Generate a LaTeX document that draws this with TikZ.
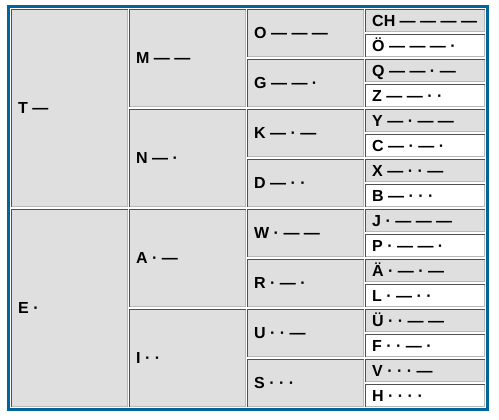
\documentclass[tikz,border=0pt]{standalone}
\usepackage{fontspec}
\setmainfont{Liberation Sans}

\definecolor{framblue}{RGB}{0,102,153}
\definecolor{cellgray}{RGB}{223,223,223}
\definecolor{edgedark}{RGB}{80,80,80}
\definecolor{edgelight}{RGB}{184,184,184}

% one table cell: name, x, y, width, height, fill, label
\newcommand{\morsecell}[7]{%
  \fill[#6] (#2,#3) rectangle ++(#4,#5);
  \draw[lightedge] (#2+#4-0.5,#3) -- (#2+#4-0.5,#3+#5-0.5) -- (#2,#3+#5-0.5);
  \draw[darkedge] (#2+0.5,#3+#5) -- (#2+0.5,#3+0.5) -- (#2+#4,#3+0.5);
  \node[celltext] (#1) at (#2+7,#3+#5/2+5.7) {#7};
}

\begin{document}
\begin{tikzpicture}[x=1pt, y=-1pt,
    darkedge/.style={edgedark, line width=1pt},
    lightedge/.style={edgelight, line width=1pt},
    celltext/.style={anchor=base west, inner sep=0pt, font=\fontsize{16}{18}\selectfont\bfseries}]
    \useasboundingbox[fill=white] (0,0) rectangle (499,420);

    % Draw the blue frame round the table
    \draw[framblue, line width=3pt] (8.5,6.5) rectangle (487.5,409.5);

    % First column: one dot or dash
    \morsecell{t}{11}{9}{117}{198}{cellgray}{T —}
    \morsecell{e}{11}{209}{117}{198}{cellgray}{E ·}

    % Second column: two signs
    \morsecell{m}{129}{9}{117}{98}{cellgray}{M — —}
    \morsecell{n}{129}{109}{117}{98}{cellgray}{N — ·}
    \morsecell{a}{129}{209}{117}{98}{cellgray}{A · —}
    \morsecell{i}{129}{309}{117}{98}{cellgray}{I · ·}

    % Third column: three signs
    \morsecell{o}{247}{9}{117}{48}{cellgray}{O — — —}
    \morsecell{g}{247}{59}{117}{48}{cellgray}{G — — ·}
    \morsecell{k}{247}{109}{117}{48}{cellgray}{K — · —}
    \morsecell{d}{247}{159}{117}{48}{cellgray}{D — · ·}
    \morsecell{w}{247}{209}{117}{48}{cellgray}{W · — —}
    \morsecell{r}{247}{259}{117}{48}{cellgray}{R · — ·}
    \morsecell{u}{247}{309}{117}{48}{cellgray}{U · · —}
    \morsecell{s}{247}{359}{117}{48}{cellgray}{S · · ·}

    % Fourth column: four signs, grey and white by turns
    \morsecell{ch}{365}{9}{120}{23}{cellgray}{CH — — — —}
    \morsecell{oe}{365}{34}{120}{23}{white}{Ö — — — ·}
    \morsecell{q}{365}{59}{120}{23}{cellgray}{Q — — · —}
    \morsecell{z}{365}{84}{120}{23}{white}{Z — — · ·}
    \morsecell{y}{365}{109}{120}{23}{cellgray}{Y — · — —}
    \morsecell{c}{365}{134}{120}{23}{white}{C — · — ·}
    \morsecell{x}{365}{159}{120}{23}{cellgray}{X — · · —}
    \morsecell{b}{365}{184}{120}{23}{white}{B — · · ·}
    \morsecell{j}{365}{209}{120}{23}{cellgray}{J · — — —}
    \morsecell{p}{365}{234}{120}{23}{white}{P · — — ·}
    \morsecell{ae}{365}{259}{120}{23}{cellgray}{Ä · — · —}
    \morsecell{l}{365}{284}{120}{23}{white}{L · — · ·}
    \morsecell{ue}{365}{309}{120}{23}{cellgray}{Ü · · — —}
    \morsecell{f}{365}{334}{120}{23}{white}{F · · — ·}
    \morsecell{v}{365}{359}{120}{23}{cellgray}{V · · · —}
    \morsecell{h}{365}{384}{120}{23}{white}{H · · · ·}
\end{tikzpicture}
\end{document}
